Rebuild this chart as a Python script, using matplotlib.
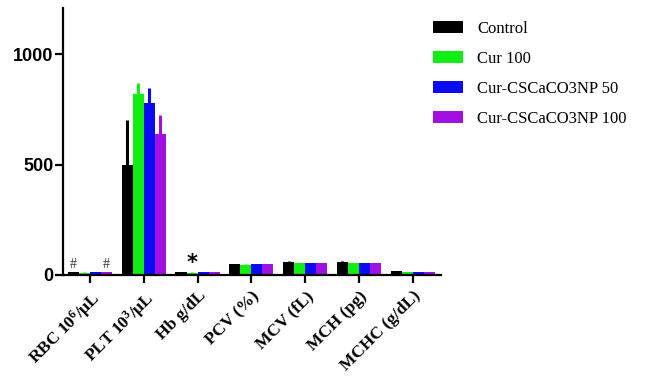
import numpy as np
import matplotlib
matplotlib.use('Agg')
import matplotlib.pyplot as plt

# fonts: Times-like serif for labels, bold sans for the y numbers
plt.rcParams['font.family'] = ['Liberation Serif', 'DejaVu Serif']
plt.rcParams['mathtext.fontset'] = 'custom'
plt.rcParams['mathtext.rm'] = 'Liberation Serif:bold'
plt.rcParams['mathtext.it'] = 'Liberation Serif:bold:italic'
plt.rcParams['mathtext.bf'] = 'Liberation Serif:bold'

categories = ['RBC 10$^{6}$/μL', 'PLT 10$^{3}$/μL', 'Hb g/dL', 'PCV (%)',
              'MCV (fL)', 'MCH (pg)', 'MCHC (g/dL)']
groups = ['Control', 'Cur 100', 'Cur-CSCaCO3NP 50', 'Cur-CSCaCO3NP 100']
colors = ['#000000', '#11EE11', '#0A0AF5', '#A010E0']

control = [12, 500, 13, 49, 59, 59, 17]
cur100 = [10, 820, 10, 46, 55, 54, 13]
np50 = [11, 778, 12, 47, 55, 54, 13]
np100 = [12, 638, 11, 48, 55, 54, 14]

control_err = [1, 200, 1, 2, 2, 2, 1]
cur100_err = [1, 50, 1, 2, 1, 1, 1]
np50_err = [1, 68, 1, 1, 1, 1, 1]
np100_err = [1, 86, 1, 1, 1, 1, 1]

values = [control, cur100, np50, np100]
errors = [control_err, cur100_err, np50_err, np100_err]

fig = plt.figure(figsize=(6.5, 3.76), dpi=100)
ax = fig.add_axes([0.097, 0.269, 0.581, 0.71])

x = np.arange(len(categories))
w = 0.205
for i in range(4):
    pos = x + (i - 1.5) * w
    ax.bar(pos, values[i], w, color=colors[i], label=groups[i], zorder=2)
    ax.errorbar(pos, values[i], yerr=[np.zeros(len(x)), errors[i]], fmt='none',
                ecolor=colors[i], elinewidth=2.2, capsize=0, zorder=1)

# significance marks
ax.text(x[0] - 1.5 * w, 16, '#', ha='center', va='bottom', fontsize=10, color='#333333')
ax.text(x[0] + 1.5 * w, 16, '#', ha='center', va='bottom', fontsize=10, color='#333333')
ax.text(x[2] - 0.5 * w, 10, '*', ha='center', va='bottom', fontsize=15,
        fontweight='bold', family='DejaVu Sans')

ax.set_xlim(-0.5, 6.52)
ax.set_ylim(0, 1210)
ax.set_yticks([0, 500, 1000])
ax.set_yticklabels(['0', '500', '1000'], family='Liberation Sans',
                   fontweight='bold', fontsize=13)
ax.set_xticks(x)
ax.set_xticklabels(categories, rotation=45, ha='right', rotation_mode='anchor',
                   fontweight='bold', fontsize=12.5)

for s in ['top', 'right']:
    ax.spines[s].set_visible(False)
for s in ['left', 'bottom']:
    ax.spines[s].set_linewidth(1.6)
ax.tick_params(axis='both', width=1.6, length=6, direction='out')
ax.tick_params(axis='y', pad=1)

leg = fig.legend(loc='upper left', bbox_to_anchor=(0.643, 0.985), frameon=False,
                 fontsize=12, handlelength=1.8, handleheight=0.75,
                 labelspacing=0.85, handletextpad=0.85)

plt.savefig('out.png', dpi=100)
